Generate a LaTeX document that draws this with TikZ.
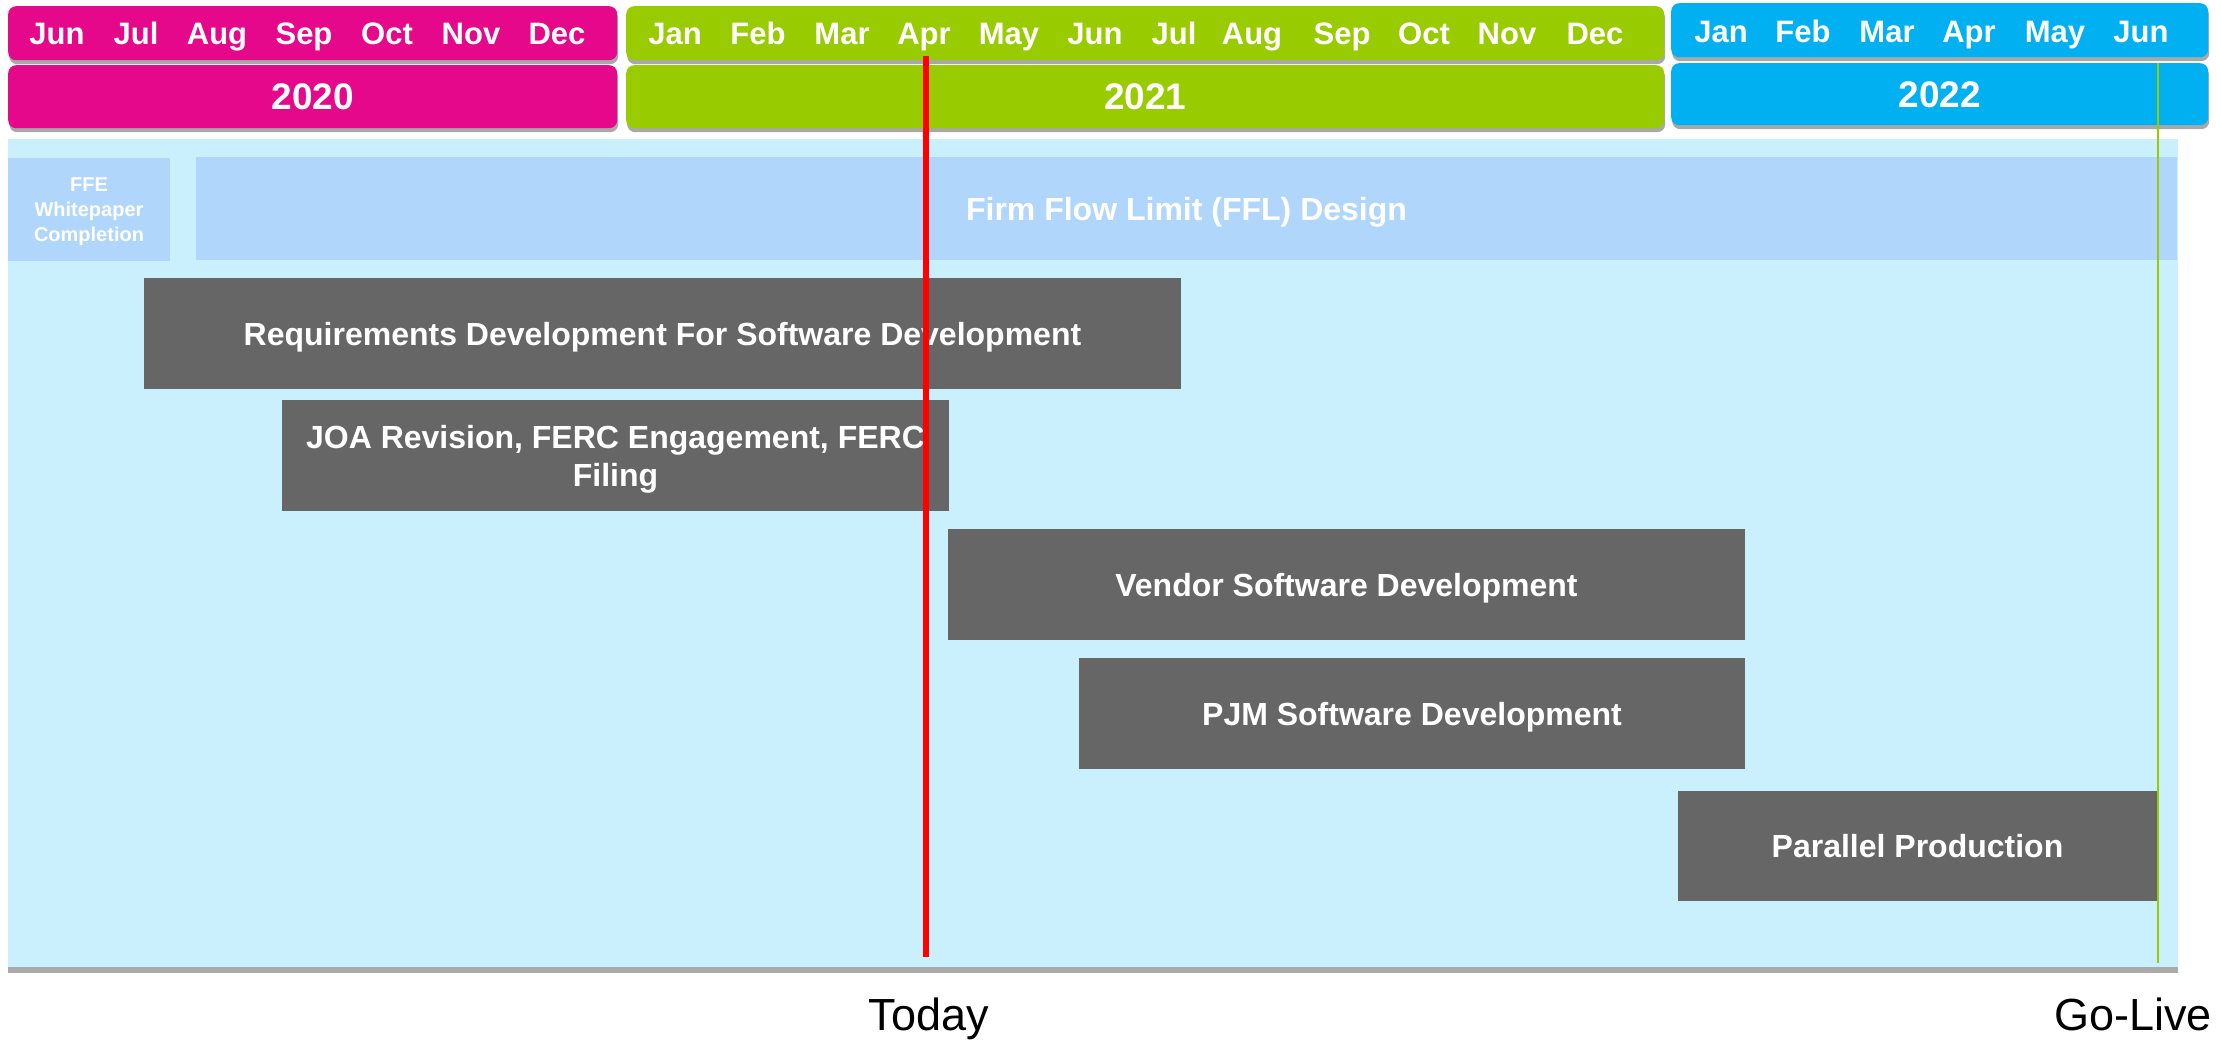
\documentclass[tikz,border=0pt]{standalone}
\usepackage{fontspec}
\setmainfont{Liberation Sans}
\usetikzlibrary{shadows}
\definecolor{cpink}{HTML}{E6088A}
\definecolor{cgreen}{HTML}{99CC00}
\definecolor{cblue}{HTML}{00B0F0}
\definecolor{cbg}{HTML}{CAF0FE}
\definecolor{cffl}{HTML}{B0D6FC}
\definecolor{cbar}{HTML}{666666}
\definecolor{cshadow}{HTML}{A8A8A8}
\definecolor{cbottom}{HTML}{AAAAAA}
\begin{document}
\begin{tikzpicture}[x=1pt,y=-1pt,
  hdr/.style={rounded corners=8pt, inner sep=0pt, anchor=north west,
    drop shadow={shadow xshift=1pt, shadow yshift=-4pt, fill=cshadow, opacity=1}},
  mon/.style={anchor=base, inner sep=0pt, text=white, font=\bfseries\fontsize{31}{31}\selectfont},
  yr/.style={text=white, text depth=0pt, font=\bfseries\fontsize{37}{37}\selectfont},
  flat/.style={anchor=north west, inner sep=0pt, outer sep=0pt},
  taskbox/.style={flat, fill=cbar, text=white, text depth=0pt, align=center,
    font=\bfseries\fontsize{32}{38}\selectfont},
  bigtext/.style={anchor=base, inner sep=0pt, text=black, font=\fontsize{45}{45}\selectfont}]
\useasboundingbox (0,0) rectangle (2221,1041);

% header boxes
\node[hdr, fill=cpink, minimum width=609pt, minimum height=54pt] (mbox20) at (8,6) {};
\node[hdr, fill=cpink, minimum width=609pt, minimum height=63pt, yr] (ybox20) at (8,65) {2020};
\node[hdr, fill=cgreen, minimum width=1038pt, minimum height=54pt] (mbox21) at (626,6) {};
\node[hdr, fill=cgreen, minimum width=1038pt, minimum height=63pt, yr] (ybox21) at (626,65) {2021};
\node[hdr, fill=cblue, minimum width=537pt, minimum height=54pt] (mbox22) at (1671,3) {};
\node[hdr, fill=cblue, minimum width=537pt, minimum height=62pt, yr] (ybox22) at (1671,63) {2022};

% month labels
\foreach \m/\x [count=\i] in {Jun/57,Jul/136,Aug/217,Sep/304,Oct/387,Nov/471,Dec/557}
  \node[mon] (ma-\i) at (\x,45) {\m};
\foreach \m/\x [count=\i] in {Jan/675,Feb/758,Mar/842,Apr/924,May/1009,Jun/1095,Jul/1174,Aug/1252,Sep/1342,Oct/1424,Nov/1507,Dec/1595}
  \node[mon] (mb-\i) at (\x,45) {\m};
\foreach \m/\x [count=\i] in {Jan/1721,Feb/1803,Mar/1887,Apr/1969,May/2055,Jun/2141}
  \node[mon] (mc-\i) at (\x,43) {\m};

% background area
\node[flat, fill=cbg, minimum width=2170pt, minimum height=828pt] (bg) at (8,139) {};
\node[flat, fill=cbottom, minimum width=2170pt, minimum height=6pt] (bottombar) at (8,967) {};

% design row
\node[flat, fill=cffl, minimum width=162pt, minimum height=103pt, text=white, align=center, text depth=0pt,
  font=\bfseries\fontsize{20}{25}\selectfont] (ffe) at (8,158) {FFE\\Whitepaper\\Completion};
\node[flat, fill=cffl, minimum width=1981pt, minimum height=103pt, text=white, text depth=0pt,
  font=\bfseries\fontsize{32}{32}\selectfont] (ffl) at (196,157) {Firm Flow Limit (FFL) Design};

% task bars
\node[taskbox, minimum width=1037pt, minimum height=111pt] (req) at (144,278) {Requirements Development For Software Development};
\node[taskbox, minimum width=667pt, minimum height=111pt] (joa) at (282,400) {JOA Revision, FERC Engagement, FERC\\Filing};
\node[taskbox, minimum width=797pt, minimum height=111pt] (vendor) at (948,529) {Vendor Software Development};
\node[taskbox, minimum width=666pt, minimum height=111pt] (pjm) at (1079,658) {PJM Software Development};
\node[taskbox, minimum width=479pt, minimum height=110pt] (par) at (1678,791) {Parallel Production};

% today and go-live lines
\coordinate (todaytop) at (926,56);
\coordinate (todaybot) at (926,957);
\draw[red, line width=6pt] (todaytop) -- (todaybot);
\coordinate (livetop) at (2158,63);
\coordinate (livebot) at (2158,963);
\draw[cgreen, line width=2pt] (livetop) -- (livebot);

\node[bigtext] (today) at (929,1030) {Today};
\node[bigtext, anchor=base west] (golive) at (2054,1030) {Go-Live};
\end{tikzpicture}
\end{document}
